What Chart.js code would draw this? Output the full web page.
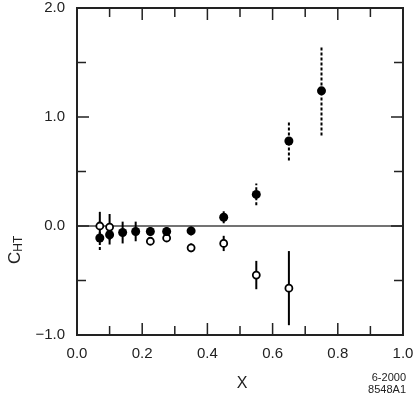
<!DOCTYPE html>
<html lang="en">
<head>
  <meta charset="UTF-8">
  <title>C_HT vs X</title>
  <script src="https://cdn.jsdelivr.net/npm/chart.js"></script>
  <style>
    body { margin: 0; background: #fff; }
    #wrap { width: 415px; height: 399px; position: relative; }
  </style>
</head>
<body>
  <div id="wrap"><canvas id="chtChart"></canvas></div>

  <script>
    // filled points
    const xFilled = [0.07, 0.10, 0.14, 0.18, 0.225, 0.275, 0.35, 0.45, 0.55, 0.65, 0.75];
    const yFilled = [-0.11, -0.08, -0.06, -0.05, -0.05, -0.05, -0.045, 0.08, 0.29, 0.78, 1.24];
    const errFilled = [0.11, 0.09, 0.10, 0.09, 0.04, 0.04, 0.04, 0.055, 0.10, 0.18, 0.41];
    const dashFilled = [true, false, false, false, false, false, false, false, true, true, true];

    // open points
    const xOpen = [0.07, 0.10, 0.225, 0.275, 0.35, 0.45, 0.55, 0.65];
    const yOpen = [0.0, -0.01, -0.14, -0.11, -0.20, -0.16, -0.45, -0.57];
    const errOpen = [0.13, 0.12, 0.03, 0.03, 0.04, 0.07, 0.13, 0.34];

    const xTicks = [0, 0.2, 0.4, 0.6, 0.8, 1.0];
    const yTicks = [-1, 0, 1, 2];

    const FONT = "'Liberation Sans', Arial, Helvetica, sans-serif";
    const INK = '#222';

    const isMajor = (v, list) => list.some(t => Math.abs(t - v) < 1e-6);

    const errorBars = {
      id: 'errorBars',
      beforeDatasetsDraw(chart) {
        const { ctx, scales: { x, y }, chartArea } = chart;
        ctx.save();
        // zero line
        ctx.strokeStyle = '#444';
        ctx.lineWidth = 1.3;
        ctx.beginPath();
        ctx.moveTo(chartArea.left, y.getPixelForValue(0));
        ctx.lineTo(chartArea.right, y.getPixelForValue(0));
        ctx.stroke();

        ctx.strokeStyle = '#000';
        ctx.lineWidth = 2;
        chart.data.datasets.forEach(ds => {
          ds.data.forEach((p, i) => {
            const e = ds.errors[i];
            ctx.setLineDash(ds.dashed && ds.dashed[i] ? [3, 2] : []);
            const px = x.getPixelForValue(p.x);
            ctx.beginPath();
            ctx.moveTo(px, y.getPixelForValue(p.y - e));
            ctx.lineTo(px, y.getPixelForValue(p.y + e));
            ctx.stroke();
          });
        });
        ctx.restore();
      },
      afterDraw(chart) {
        const { ctx, scales: { x, y }, chartArea: a } = chart;
        ctx.save();
        ctx.strokeStyle = INK;
        ctx.lineWidth = 1.5;
        // inward ticks on all four sides
        x.ticks.forEach(t => {
          const px = x.getPixelForValue(t.value);
          const len = isMajor(t.value, xTicks) ? 12 : 9;
          ctx.beginPath();
          ctx.moveTo(px, a.bottom); ctx.lineTo(px, a.bottom - len);
          ctx.moveTo(px, a.top); ctx.lineTo(px, a.top + len);
          ctx.stroke();
        });
        y.ticks.forEach(t => {
          const py = y.getPixelForValue(t.value);
          const len = isMajor(t.value, yTicks) ? 12 : 9;
          ctx.beginPath();
          ctx.moveTo(a.left, py); ctx.lineTo(a.left + len, py);
          ctx.moveTo(a.right, py); ctx.lineTo(a.right - len, py);
          ctx.stroke();
        });
        // frame
        ctx.lineWidth = 2;
        ctx.strokeRect(a.left, a.top, a.right - a.left, a.bottom - a.top);

        // axis titles
        ctx.fillStyle = INK;
        ctx.textAlign = 'center';
        ctx.textBaseline = 'middle';
        ctx.font = '16px ' + FONT;
        ctx.fillText('X', 242, 384);

        ctx.save();
        ctx.translate(20, 264);
        ctx.rotate(-Math.PI / 2);
        ctx.textAlign = 'left';
        ctx.textBaseline = 'alphabetic';
        ctx.font = '17px ' + FONT;
        ctx.fillText('C', 0, 0);
        const cw = ctx.measureText('C').width;
        ctx.font = '12px ' + FONT;
        ctx.fillText('HT', cw, 2);
        ctx.restore();

        ctx.textAlign = 'right';
        ctx.font = '11px ' + FONT;
        ctx.fillText('6-2000', 406, 378);
        ctx.fillText('8548A1', 406, 390);
        ctx.restore();
      }
    };

    new Chart(document.getElementById('chtChart'), {
      type: 'scatter',
      data: {
        datasets: [
          {
            label: 'filled',
            data: xFilled.map((v, i) => ({ x: v, y: yFilled[i] })),
            errors: errFilled,
            dashed: dashFilled,
            pointRadius: 4.5,
            pointBackgroundColor: '#000',
            pointBorderColor: '#000',
            pointBorderWidth: 0
          },
          {
            label: 'open',
            data: xOpen.map((v, i) => ({ x: v, y: yOpen[i] })),
            errors: errOpen,
            pointRadius: 3.5,
            pointBackgroundColor: '#fff',
            pointBorderColor: '#000',
            pointBorderWidth: 1.8
          }
        ]
      },
      options: {
        responsive: true,
        maintainAspectRatio: false,
        animation: false,
        layout: { padding: { top: 8, right: 12, left: 0, bottom: 0 } },
        plugins: { legend: { display: false }, tooltip: { enabled: false } },
        scales: {
          x: {
            type: 'linear',
            min: 0,
            max: 1,
            grid: { display: false, drawTicks: false },
            border: { display: false },
            afterFit: s => { s.height = 64; s.paddingLeft = 0; s.paddingRight = 0; },
            ticks: {
              stepSize: 0.1,
              autoSkip: false,
              maxRotation: 0,
              padding: 10,
              color: INK,
              font: { family: FONT, size: 15 },
              callback: v => isMajor(v, xTicks) ? v.toFixed(1) : ''
            }
          },
          y: {
            type: 'linear',
            min: -1,
            max: 2,
            grid: { display: false, drawTicks: false },
            border: { display: false },
            afterFit: s => { s.width = 77; s.paddingTop = 0; s.paddingBottom = 0; },
            ticks: {
              stepSize: 0.5,
              autoSkip: false,
              padding: 12,
              color: INK,
              font: { family: FONT, size: 15 },
              callback: v => isMajor(v, yTicks) ? (v < 0 ? '\u2212' + Math.abs(v).toFixed(1) : v.toFixed(1)) : ''
            }
          }
        }
      },
      plugins: [errorBars]
    });
  </script>
</body>
</html>
